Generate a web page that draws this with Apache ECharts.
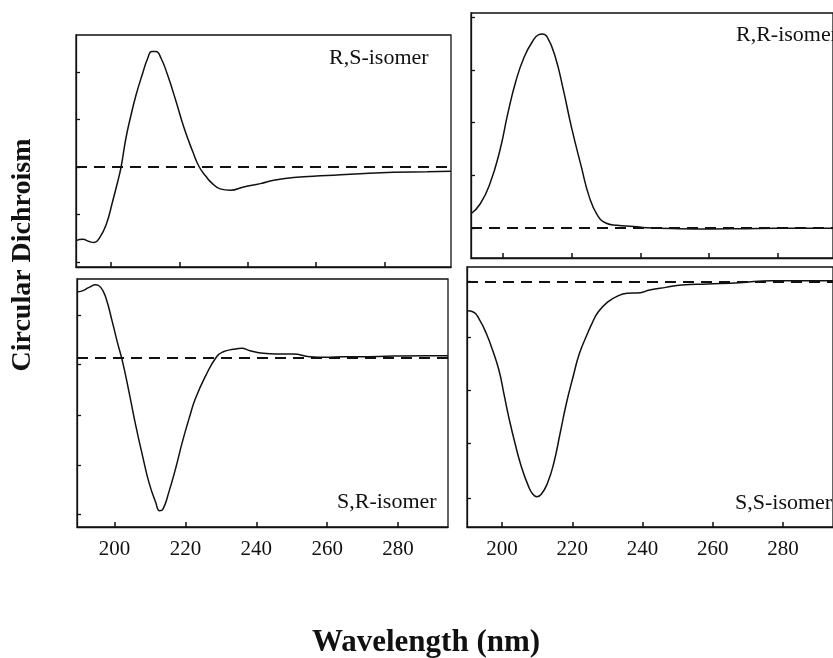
<!DOCTYPE html>
<html>
<head>
<meta charset="utf-8">
<script src="https://cdn.jsdelivr.net/npm/echarts@6/dist/echarts.min.js"></script>
<style>
html,body{margin:0;padding:0;background:#fff;}
#chart{width:833px;height:658px;}
</style>
</head>
<body>
<div id="chart"></div>
<script>
// ---- data (wavelength nm, CD arbitrary units; 0 = baseline) ----
const xTicks = [200, 220, 240, 260, 280];

const rsWl = [189.7, 191.7, 193.6, 195.1, 196.5, 198.5, 200.4, 201.9, 202.9, 204.3, 205.8, 207.3, 209.2, 210.7, 211.9, 213.1, 214.6, 216.5, 219, 221.4, 223.9, 225.8, 227.8, 229.5, 231.9, 234.9, 238.8, 243.7, 247.6, 253.4, 263.2, 272.9, 282.7, 292.5, 299.5];
const rsCD = [-1.55, -1.52, -1.57, -1.59, -1.50, -1.22, -0.73, -0.31, 0, 0.60, 1.09, 1.52, 1.97, 2.29, 2.43, 2.43, 2.29, 1.94, 1.38, 0.81, 0.32, 0, -0.20, -0.34, -0.46, -0.49, -0.42, -0.35, -0.28, -0.22, -0.18, -0.14, -0.11, -0.10, -0.09];
const rsYTicks = [2, 1, 0, -1, -2];

const rrWl = [190.7, 193.4, 196.2, 199.1, 201.4, 203.8, 206.2, 208.5, 210.4, 211.4, 212.8, 215.2, 217.6, 219.9, 222.8, 225.1, 227.5, 229.9, 233.2, 238, 241.7, 251.2, 260.7, 270.2, 279.7, 289.2, 296];
const rrCD = [0.27, 0.46, 0.84, 1.47, 2.17, 2.80, 3.25, 3.53, 3.67, 3.68, 3.63, 3.25, 2.61, 1.92, 1.16, 0.59, 0.24, 0.095, 0.05, 0.03, 0.006, -0.013, -0.019, -0.013, -0.006, -0.006, -0.006];
const rrYTicks = [0, 1, 2, 3, 4];

const srWl = [189.4, 190.9, 192.8, 194.7, 196.1, 197.5, 199.4, 200.8, 202.3, 204.1, 206, 207.9, 209.7, 211.6, 212.7, 213.7, 215.3, 217.2, 219.1, 221, 222.8, 225.7, 228.8, 230.7, 233.5, 235.9, 238.2, 242, 245.7, 250.4, 255.1, 259.8, 264.5, 269.2, 278.6, 288, 294.1];
const srCD = [1.31, 1.33, 1.40, 1.45, 1.40, 1.20, 0.70, 0.30, -0.10, -0.70, -1.37, -1.97, -2.50, -2.90, -3.07, -3.03, -2.70, -2.23, -1.70, -1.23, -0.83, -0.37, 0.013, 0.113, 0.16, 0.18, 0.133, 0.08, 0.067, 0.067, 0.013, 0, 0.013, 0.013, 0.027, 0.033, 0.033];
const srYTicks = [0.847, -0.14, -1.153, -2.153, -3.14];

const ssWl = [190, 191.8, 193.7, 195.5, 197.3, 199.1, 200.5, 201.9, 203.7, 205.5, 207.4, 208.7, 209.9, 211.2, 212.9, 214.7, 216.5, 218.3, 220.2, 222, 224.3, 225.6, 227.4, 230.2, 232.9, 235.6, 239.3, 242, 246.6, 251.2, 258.5, 267.6, 276.8, 285.9, 294.2];
const ssCD = [-0.54, -0.56, -0.72, -0.96, -1.27, -1.64, -2.07, -2.51, -3.0, -3.43, -3.77, -3.93, -3.98, -3.93, -3.73, -3.36, -2.81, -2.25, -1.76, -1.33, -0.96, -0.77, -0.556, -0.37, -0.265, -0.216, -0.204, -0.154, -0.105, -0.062, -0.043, -0.019, 0.019, 0.019, 0.019];
const ssYTicks = [0, -1.02, -2.0, -2.99, -4.0];

const panelLabels = ['R,S-isomer', 'R,R-isomer', 'S,R-isomer', 'S,S-isomer'];

// ---- layout ----
const SERIF = '"Liberation Serif", "DejaVu Serif", serif';
const panels = [
  {grid:{left:76, top:35, width:375, height:232}, x:[189.7, 299.5], y:[-2.105, 2.779], wl:rsWl, cd:rsCD, yt:rsYTicks, labels:false},
  {grid:{left:471, top:13, width:370, height:245}, x:[190.7, 296.0], y:[-0.57, 4.08], wl:rrWl, cd:rrCD, yt:rrYTicks, labels:false},
  {grid:{left:77, top:279, width:371, height:248}, x:[189.4, 294.1], y:[-3.393, 1.567], wl:srWl, cd:srCD, yt:srYTicks, labels:true},
  {grid:{left:467, top:267, width:380, height:260}, x:[190, 294.2], y:[-4.54, 0.272], wl:ssWl, cd:ssCD, yt:ssYTicks, labels:true}
];

const grids = [], xAxes = [], yAxes = [], series = [];
panels.forEach((p, i) => {
  grids.push(Object.assign({show:true, borderColor:'#111', borderWidth:1.3, backgroundColor:'transparent', containLabel:false}, p.grid));
  xAxes.push({
    type:'value', gridIndex:i, min:p.x[0], max:p.x[1],
    axisLine:{show:true, onZero:false, lineStyle:{color:'#111', width:1.3}},
    axisTick:{show:true, inside:true, length:5, customValues:xTicks, lineStyle:{color:'#111', width:1.5}},
    axisLabel:{show:p.labels, customValues:xTicks, margin:12, color:'#111', fontSize:21, fontFamily:SERIF},
    splitLine:{show:false}
  });
  yAxes.push({
    type:'value', gridIndex:i, min:p.y[0], max:p.y[1],
    axisLine:{show:true, onZero:false, lineStyle:{color:'#111', width:1.3}},
    axisTick:{show:true, inside:true, length:4, customValues:p.yt, lineStyle:{color:'#111', width:1.3}},
    axisLabel:{show:false},
    splitLine:{show:false}
  });
  series.push({
    type:'line', xAxisIndex:i, yAxisIndex:i,
    data:p.wl.map((w, k) => [w, p.cd[k]]),
    smooth:0.5, symbol:'none', silent:true,
    lineStyle:{color:'#111', width:1.5},
    markLine:{
      silent:true, symbol:'none', label:{show:false},
      lineStyle:{color:'#111', width:1.8, type:[11, 7]},
      data:[{yAxis:0}]
    }
  });
});

const labelPos = [[329, 60], [736, 37], [337, 504], [735, 505]];
const graphics = panelLabels.map((t, i) => ({
  type:'text', left:labelPos[i][0], top:labelPos[i][1] - 13,
  style:{text:t, font:'22px ' + SERIF, fill:'#111'}
}));
graphics.push({
  type:'text', x:23, y:255, rotation:Math.PI/2,
  style:{text:'Circular Dichroism', font:'bold 28px ' + SERIF, fill:'#111', textAlign:'center', textVerticalAlign:'middle'}
});
graphics.push({
  type:'text', x:426, y:643,
  style:{text:'Wavelength (nm)', font:'bold 31px ' + SERIF, fill:'#111', textAlign:'center', textVerticalAlign:'middle'}
});

const chart = echarts.init(document.getElementById('chart'), null, {renderer:'canvas'});
chart.setOption({
  animation:false,
  backgroundColor:'#fff',
  grid:grids, xAxis:xAxes, yAxis:yAxes, series:series,
  graphic:graphics
});
</script>
</body>
</html>
